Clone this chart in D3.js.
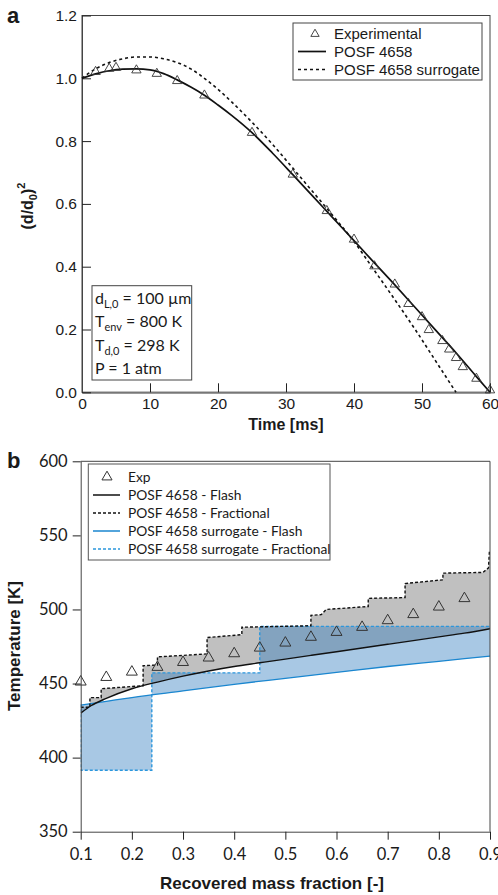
<!DOCTYPE html>
<html>
<head>
<meta charset="utf-8">
<script src="https://cdn.jsdelivr.net/npm/d3@7"></script>
<style>
  body { margin: 0; background: #fff; }
  svg text { fill: #1a1a1a; }
</style>
</head>
<body>
<div id="fig"></div>
<script>

/* ---- panel a data: (d/d0)^2 vs time ---- */
var expTime = [2, 4, 5, 8, 11, 14, 18, 25, 31, 36, 40, 43, 46, 48, 50, 51, 53, 54, 55, 56, 58, 60]
var expD2 = [1.024, 1.034, 1.037, 1.029, 1.018, 0.995, 0.949, 0.830, 0.697, 0.581, 0.490, 0.405,
             0.347, 0.285, 0.243, 0.202, 0.167, 0.140, 0.113, 0.084, 0.047, 0.010]

var posfTime = [0, 2, 4, 6, 8, 10, 12, 14, 16, 18, 20, 22, 25, 28, 31, 34, 37, 40, 43, 46, 49, 52, 55, 58, 60]
var posfD2 = [1.000, 1.014, 1.024, 1.029, 1.030, 1.027, 1.015, 0.995, 0.972, 0.946, 0.915, 0.882, 0.827,
              0.762, 0.693, 0.623, 0.553, 0.483, 0.412, 0.342, 0.270, 0.198, 0.126, 0.050, 0.000]

var surTime = [0, 2, 4, 6, 8, 10, 12, 14, 16, 18, 20, 22, 25, 28, 31, 34, 37, 40, 43, 46, 49, 52, 55]
var surD2 = [1.000, 1.030, 1.050, 1.062, 1.068, 1.068, 1.062, 1.050, 1.030, 1.000, 0.965, 0.925, 0.860,
             0.790, 0.714, 0.637, 0.560, 0.480, 0.388, 0.295, 0.200, 0.100, 0.000]

var aTicksX = [0, 10, 20, 30, 40, 50, 60]
var aTicksY = [0, 0.2, 0.4, 0.6, 0.8, 1.0, 1.2]

/* ---- panel b data: temperature vs recovered mass fraction ---- */
var expFrac = [0.10, 0.15, 0.20, 0.25, 0.30, 0.35, 0.40, 0.45, 0.50, 0.55, 0.60, 0.65, 0.70, 0.75, 0.80, 0.85]
var expTemp = [451.8, 454.9, 458.5, 461.7, 465.0, 468.0, 470.9, 474.7, 478.1, 482.0, 485.3, 488.7, 493.2, 497.3, 502.4, 508.1]

var flashFrac = [0.10, 0.12, 0.15, 0.20, 0.25, 0.30, 0.35, 0.40, 0.45, 0.50, 0.55, 0.60, 0.65, 0.70, 0.75, 0.80, 0.85, 0.90]
var flashTemp = [430, 435, 440, 446.5, 451, 455, 458.5, 461.5, 464, 466.5, 469, 471.5, 474, 476.5, 479, 481.5, 484, 487]

var surFlashFrac = [0.10, 0.15, 0.20, 0.30, 0.40, 0.50, 0.60, 0.70, 0.80, 0.90]
var surFlashTemp = [435.5, 438, 440.5, 445, 449.5, 453.5, 457.5, 461.5, 465, 468.5]

var fracX = [0.100, 0.118, 0.118, 0.140, 0.140, 0.180, 0.222, 0.222, 0.250, 0.250, 0.300, 0.347, 0.347, 0.415,
             0.415, 0.550, 0.550, 0.570, 0.580, 0.662, 0.662, 0.734, 0.734, 0.808, 0.808, 0.886, 0.897, 0.899]
var fracT = [434, 434, 440.5, 440.5, 446.5, 447.5, 448.5, 462, 462.5, 468, 469, 470, 481, 483,
             488, 489, 496, 496.5, 500, 502, 507.5, 508, 517.5, 520, 524.5, 525, 528, 540]

var surFracX = [0.100, 0.100, 0.239, 0.239, 0.450, 0.450, 0.900]
var surFracT = [436, 391.5, 391.5, 457.2, 457.2, 488.6, 488.6]

var bTicksX = [0.1, 0.2, 0.3, 0.4, 0.5, 0.6, 0.7, 0.8, 0.9]
var bTicksY = [350, 400, 450, 500, 550, 600]

var legendA = ["Experimental", "POSF 4658", "POSF 4658 surrogate"]
var legendB = ["Exp", "POSF 4658 - Flash", "POSF 4658 - Fractional", "POSF 4658 surrogate - Flash", "POSF 4658 surrogate - Fractional"]

/* ---- styles ---- */
var helv = "'Liberation Sans', Arial, Helvetica, sans-serif"
var cal = "Lato, 'Open Sans', sans-serif"
var blue = "#1a86cf"
var blueDash = "#2b96dc"
var blueFill = "rgba(48,124,191,0.42)"
var grayFill = "#c0c0c0"

var svg = d3.select("#fig").append("svg")
  .attr("width", 498)
  .attr("height", 895)

function triangle(size) {
  return d3.symbol().type(d3.symbolTriangle).size(size)()
}

/* ================= panel a ================= */
var xa = d3.scaleLinear().domain([0, 60]).range([82, 490])
var ya = d3.scaleLinear().domain([0, 1.2]).range([392.3, 15.5])

var pa = svg.append("g").attr("class", "panelA")

pa.append("rect")
  .attr("x", xa(0)).attr("y", ya(1.2))
  .attr("width", xa(60) - xa(0)).attr("height", ya(0) - ya(1.2))
  .attr("fill", "none").attr("stroke", "#444").attr("stroke-width", 1)

var axBa = pa.append("g")
  .attr("transform", "translate(0," + ya(0) + ")")
  .call(d3.axisBottom(xa).tickValues(aTicksX).tickSizeInner(-9).tickSizeOuter(0).tickPadding(6).tickFormat(d3.format("d")))
axBa.select(".domain").attr("stroke", "#777").attr("stroke-width", 2)
axBa.selectAll("line").attr("stroke", "#222")
axBa.selectAll("text").attr("font-family", helv).attr("font-size", 15.5).attr("fill", "#1a1a1a")

var axLa = pa.append("g")
  .attr("transform", "translate(" + xa(0) + ",0)")
  .call(d3.axisLeft(ya).tickValues(aTicksY).tickSizeInner(-9).tickSizeOuter(0).tickPadding(5).tickFormat(d3.format(".1f")))
axLa.select(".domain").attr("stroke", "#444")
axLa.selectAll("line").attr("stroke", "#222")
axLa.selectAll("text").attr("font-family", helv).attr("font-size", 15.5).attr("fill", "#1a1a1a")

var lineA = function(xs, ys) {
  return d3.line().curve(d3.curveMonotoneX)
    .x(function(d, i) { return xa(xs[i]) })
    .y(function(d, i) { return ya(ys[i]) })(xs)
}

pa.append("path")
  .attr("d", lineA(surTime, surD2))
  .attr("fill", "none").attr("stroke", "#111").attr("stroke-width", 1.6)
  .attr("stroke-dasharray", "3,3")

pa.append("path")
  .attr("d", lineA(posfTime, posfD2))
  .attr("fill", "none").attr("stroke", "#111").attr("stroke-width", 1.7)

pa.selectAll(".expA").data(expTime).enter()
  .append("path")
  .attr("class", "expA")
  .attr("d", triangle(38))
  .attr("transform", function(d, i) { return "translate(" + xa(d) + "," + (ya(expD2[i]) + 1) + ")" })
  .attr("fill", "none").attr("stroke", "#333").attr("stroke-width", 0.9)

/* legend a */
var lgA = pa.append("g").attr("class", "legendA")
lgA.append("rect")
  .attr("x", 293).attr("y", 23).attr("width", 189).attr("height", 57)
  .attr("fill", "#fff").attr("stroke", "#444").attr("stroke-width", 1)
lgA.selectAll("text").data(legendA).enter()
  .append("text")
  .text(function(d) { return d })
  .attr("x", 334)
  .attr("y", function(d, i) { return 38.5 + i * 18 })
  .attr("font-family", helv).attr("font-size", 15)
lgA.append("path")
  .attr("d", triangle(30))
  .attr("transform", "translate(315,34)")
  .attr("fill", "none").attr("stroke", "#333").attr("stroke-width", 0.9)
lgA.append("line")
  .attr("x1", 298).attr("x2", 326).attr("y1", 51.5).attr("y2", 51.5)
  .attr("stroke", "#111").attr("stroke-width", 1.7)
lgA.append("line")
  .attr("x1", 298).attr("x2", 326).attr("y1", 69.5).attr("y2", 69.5)
  .attr("stroke", "#111").attr("stroke-width", 1.5).attr("stroke-dasharray", "3,3")

/* conditions box */
var conds = [
  [["d", 0], ["L,0", 1], [" = 100 \u00b5m", 0]],
  [["T", 0], ["env", 1], [" = 800 K", 0]],
  [["T", 0], ["d,0", 1], [" = 298 K", 0]],
  [["P = 1 atm", 0]]
]
var cb = pa.append("g").attr("class", "condBox")
cb.append("rect")
  .attr("x", 92).attr("y", 285.7).attr("width", 99.7).attr("height", 94.3)
  .attr("fill", "#fff").attr("stroke", "#444").attr("stroke-width", 1)
conds.forEach(function(parts, r) {
  var t = cb.append("text")
    .attr("x", 95).attr("y", 304 + r * 23.3)
    .attr("font-family", cal).attr("font-size", 16)
  var down = false
  parts.forEach(function(p) {
    var ts = t.append("tspan").text(p[0])
    if (p[1] === 1) { ts.attr("font-size", 11).attr("dy", 4); down = true }
    else if (down) { ts.attr("dy", -4); down = false }
  })
})

/* axis titles a */
pa.append("text")
  .text("Time [ms]")
  .attr("x", 286).attr("y", 430)
  .attr("text-anchor", "middle")
  .attr("font-family", helv).attr("font-weight", "bold").attr("font-size", 16)

var ytA = pa.append("text")
  .attr("transform", "translate(33,206) rotate(-90)")
  .attr("text-anchor", "middle")
  .attr("font-family", helv).attr("font-weight", "bold").attr("font-size", 16)
ytA.append("tspan").text("(d/d")
ytA.append("tspan").text("0").attr("font-size", 11).attr("dy", 4)
ytA.append("tspan").text(")").attr("dy", -4)
ytA.append("tspan").text("2").attr("font-size", 11).attr("dy", -8)

pa.append("text")
  .text("a")
  .attr("x", 7).attr("y", 23)
  .attr("font-family", helv).attr("font-weight", "bold").attr("font-size", 22)

/* ================= panel b ================= */
var xb = d3.scaleLinear().domain([0.1, 0.9]).range([80.7, 490])
var yb = d3.scaleLinear().domain([350, 600]).range([831.7, 461.3])

var pb = svg.append("g").attr("class", "panelB")

svg.append("defs").append("clipPath").attr("id", "clipB")
  .append("rect")
  .attr("x", xb(0.1)).attr("y", yb(600))
  .attr("width", xb(0.9) - xb(0.1)).attr("height", yb(350) - yb(600))

var plotB = pb.append("g").attr("clip-path", "url(#clipB)")

var ptsB = function(xs, ys) {
  return xs.map(function(d, i) { return [xb(d), yb(ys[i])] })
}
var lin = d3.line()
var smooth = d3.line().curve(d3.curveMonotoneX)

/* grey band: POSF flash -> fractional */
var grayPoly = ptsB(fracX, fracT).concat(ptsB(flashFrac, flashTemp).reverse())
plotB.append("path")
  .attr("d", lin(grayPoly) + "Z")
  .attr("fill", grayFill).attr("stroke", "none")

/* blue band: surrogate flash -> fractional */
var bluePoly = ptsB(surFracX, surFracT).concat(ptsB(surFlashFrac, surFlashTemp).reverse())
plotB.append("path")
  .attr("d", lin(bluePoly) + "Z")
  .attr("fill", blueFill).attr("stroke", "none")

plotB.append("path")
  .attr("d", lin(ptsB(surFracX, surFracT)))
  .attr("fill", "none").attr("stroke", blueDash).attr("stroke-width", 1.4)
  .attr("stroke-dasharray", "3,2")

plotB.append("path")
  .attr("d", smooth(ptsB(surFlashFrac, surFlashTemp)))
  .attr("fill", "none").attr("stroke", blue).attr("stroke-width", 1.3)

plotB.append("path")
  .attr("d", smooth(ptsB(flashFrac, flashTemp)))
  .attr("fill", "none").attr("stroke", "#111").attr("stroke-width", 1.4)

plotB.append("path")
  .attr("d", lin(ptsB(fracX, fracT)))
  .attr("fill", "none").attr("stroke", "#111").attr("stroke-width", 1.4)
  .attr("stroke-dasharray", "3,2")

pb.selectAll(".expB").data(expFrac).enter()
  .append("path")
  .attr("class", "expB")
  .attr("d", triangle(52))
  .attr("transform", function(d, i) { return "translate(" + xb(d) + "," + (yb(expTemp[i]) + 1) + ")" })
  .attr("fill", "none").attr("stroke", "#333").attr("stroke-width", 1)

/* frame + axes b */
pb.append("path")
  .attr("d", "M" + xb(0.1) + "," + yb(600) + "H" + xb(0.9) + "V" + yb(350))
  .attr("fill", "none").attr("stroke", "#444").attr("stroke-width", 1)

var axBb = pb.append("g")
  .attr("transform", "translate(0," + yb(350) + ")")
  .call(d3.axisBottom(xb).tickValues(bTicksX).tickSizeInner(8).tickSizeOuter(0).tickPadding(9).tickFormat(d3.format(".1f")))
axBb.select(".domain").attr("stroke", "#444")
axBb.selectAll("line").attr("stroke", "#222")
axBb.selectAll("text").attr("font-family", cal).attr("font-size", 16.5).attr("fill", "#1a1a1a")

var axLb = pb.append("g")
  .attr("transform", "translate(" + xb(0.1) + ",0)")
  .call(d3.axisLeft(yb).tickValues(bTicksY).tickSizeInner(8).tickSizeOuter(0).tickPadding(5).tickFormat(d3.format("d")))
axLb.select(".domain").attr("stroke", "#444")
axLb.selectAll("line").attr("stroke", "#222")
axLb.selectAll("text").attr("font-family", cal).attr("font-size", 16.5).attr("fill", "#1a1a1a")

/* legend b */
var lgB = pb.append("g").attr("class", "legendB")
lgB.append("rect")
  .attr("x", 88.3).attr("y", 464).attr("width", 241.7).attr("height", 96)
  .attr("fill", "#fff").attr("stroke", "#555").attr("stroke-width", 1)
lgB.selectAll("text").data(legendB).enter()
  .append("text")
  .text(function(d) { return d })
  .attr("x", 128)
  .attr("y", function(d, i) { return 482 + i * 18 })
  .attr("font-family", cal).attr("font-size", 13.8)
lgB.append("path")
  .attr("d", triangle(44))
  .attr("transform", "translate(107,477)")
  .attr("fill", "none").attr("stroke", "#333").attr("stroke-width", 1)
var lgLines = [
  { c: "#111", dash: null },
  { c: "#111", dash: "3,2" },
  { c: blue, dash: null },
  { c: blueDash, dash: "3,2" }
]
lgB.selectAll(".lgl").data(lgLines).enter()
  .append("line")
  .attr("class", "lgl")
  .attr("x1", 93).attr("x2", 120)
  .attr("y1", function(d, i) { return 495 + i * 18 })
  .attr("y2", function(d, i) { return 495 + i * 18 })
  .attr("stroke", function(d) { return d.c })
  .attr("stroke-width", 1.5)
  .attr("stroke-dasharray", function(d) { return d.dash })

/* axis titles b */
pb.append("text")
  .text("Recovered mass fraction [-]")
  .attr("x", 272).attr("y", 889)
  .attr("text-anchor", "middle")
  .attr("font-family", helv).attr("font-weight", "bold").attr("font-size", 17)

pb.append("text")
  .text("Temperature [K]")
  .attr("transform", "translate(20,646) rotate(-90)")
  .attr("text-anchor", "middle")
  .attr("font-family", helv).attr("font-weight", "bold").attr("font-size", 17)

pb.append("text")
  .text("b")
  .attr("x", 7).attr("y", 468)
  .attr("font-family", helv).attr("font-weight", "bold").attr("font-size", 22)

</script>
</body>
</html>
